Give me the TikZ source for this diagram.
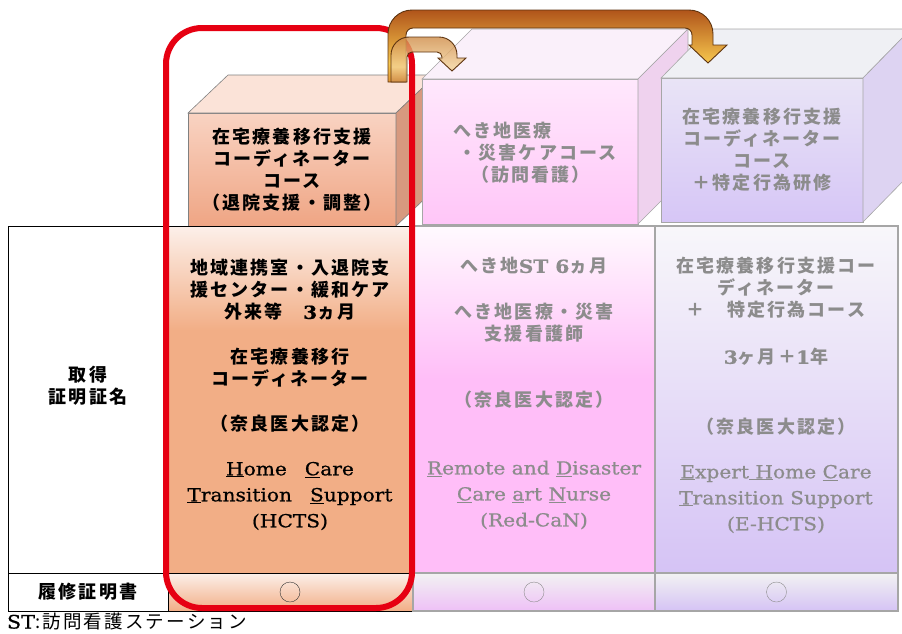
\documentclass[tikz,border=0pt]{standalone}
\usepackage{fontspec}
\setmainfont{Noto Sans CJK JP}[LetterSpace=12]
\newfontfamily\en{DejaVu Serif}[FakeStretch=1.12, FakeBold=0.8]
\usetikzlibrary{positioning,calc}

\definecolor{orfront}{HTML}{EFA584}
\definecolor{orfronttop}{HTML}{F9D3C2}
\definecolor{orside}{HTML}{D7997F}
\definecolor{ortop}{HTML}{FBE3D8}
\definecolor{orcell}{HTML}{F2AE86}
\definecolor{orcelltop}{HTML}{FCF0EA}
\definecolor{pkfront}{HTML}{FFC6F8}
\definecolor{pkfronttop}{HTML}{FFE8FC}
\definecolor{pkside}{HTML}{EFD2EE}
\definecolor{pktop}{HTML}{FAF0FA}
\definecolor{pkcell}{HTML}{FFBEF8}
\definecolor{pkcelltop}{HTML}{FFFAFE}
\definecolor{lvfront}{HTML}{D6C6F6}
\definecolor{lvfronttop}{HTML}{E9E4F6}
\definecolor{lvside}{HTML}{DDD3F2}
\definecolor{lvtop}{HTML}{EFF0F4}
\definecolor{lvcell}{HTML}{D5C3F5}
\definecolor{lvcelltop}{HTML}{F8F7FA}
\definecolor{rowtop}{HTML}{F2F2F2}
\definecolor{fadeline}{HTML}{A6A6A6}
\definecolor{fadetext}{HTML}{8C8C8C}
\definecolor{arredge}{HTML}{5E3410}
\definecolor{arrdark}{HTML}{B0541A}
\definecolor{arrhi}{HTML}{F7C84E}
\definecolor{arrlow}{HTML}{E09535}
\definecolor{smalldark}{HTML}{CF8C48}
\definecolor{smallhi}{HTML}{F3D296}
\definecolor{framered}{HTML}{E60012}

\pgfdeclareverticalshading{orcellshade}{100bp}{color(0bp)=(orcell); color(25bp)=(orcell); color(60bp)=(orcell); color(75bp)=(orcelltop); color(100bp)=(orcelltop)}
\pgfdeclareverticalshading{pkcellshade}{100bp}{color(0bp)=(pkcell); color(25bp)=(pkcell); color(53bp)=(pkcell); color(75bp)=(pkcelltop); color(100bp)=(pkcelltop)}
\pgfdeclareverticalshading{bigarrowshade}{100bp}{color(0bp)=(arrlow); color(25bp)=(arrlow); color(38bp)=(arrhi); color(75bp)=(arrdark); color(100bp)=(arrdark)}
\pgfdeclareverticalshading{smallarrowshade}{100bp}{color(0bp)=(smalldark); color(25bp)=(smalldark); color(42bp)=(smallhi); color(75bp)=(smalldark); color(100bp)=(smalldark)}

\begin{document}
\begin{tikzpicture}[x = 1pt, y = -1pt, semithick,
                    every node/.style = {inner sep = 0pt, outer sep = 0pt},
                    jp/.style    = {font = \bfseries\fontsize{18}{22}\selectfont,
                                    align = center},
                    en/.style    = {font = \en\fontsize{18}{26}\selectfont,
                                    align = center},
                    faded/.style = {text = fadetext},
                    face/.style  = {draw = #1, line width = 0.8pt},
                    cell/.style  = {draw = #1, line width = 0.8pt},
                    ring/.style  = {circle, draw = #1, thin,
                                    minimum size = 20pt},
                    hcts/.style  = {draw = framered, line width = 6pt,
                                    rounded corners = 36pt},
                    bigarrow/.style   = {draw = arredge, line width = 0.9pt,
                                         shading = bigarrowshade},
                    smallarrow/.style = {draw = arredge, line width = 0.9pt,
                                         shading = smallarrowshade,
                                         fill opacity = 0.8}]

\useasboundingbox (0,0) rectangle (902,633);

% course boxes
\node[face = gray, top color = orfronttop, bottom color = orfront,
      minimum width = 208pt, minimum height = 113pt, jp] (f1) at (292,169.5)
      {在宅療養移行支援\\コーディネーター\\コース\\（退院支援・調整）};
\filldraw[draw = gray, fill = ortop] (f1.north west) -- ++(40,-38) -- ++(208,0) -- (f1.north east) -- cycle;
\filldraw[draw = gray, fill = orside] (f1.north east) -- ++(40,-38) -- ++(0,113) -- (f1.south east) -- cycle;

\node[face = fadeline, top color = pkfronttop, bottom color = pkfront,
      minimum width = 216pt, minimum height = 145pt] (f2) at (530,151.5) {};
\filldraw[draw = fadeline, fill = pktop] (f2.north west) -- ++(50,-50) -- ++(216,0) -- (f2.north east) -- cycle;
\filldraw[draw = fadeline, fill = pkside] (f2.north east) -- ++(50,-50) -- ++(0,145) -- (f2.south east) -- cycle;
\node[jp, faded, align = left, anchor = west] (b2) at (453,153)
      {へき地医療\\\hspace{0.3em}・災害ケアコース\\\hspace{1em}（訪問看護）};

\node[face = fadeline, top color = lvfronttop, bottom color = lvfront,
      minimum width = 202pt, minimum height = 144pt, jp, faded] (f3) at (762,150)
      {在宅療養移行支援\\コーディネーター\\コース\\＋特定行為研修};
\filldraw[draw = fadeline, fill = lvtop] (f3.north west) -- ++(48,-49) -- ++(202,0) -- (f3.north east) -- cycle;
\filldraw[draw = fadeline, fill = lvside] (f3.north east) -- ++(48,-49) -- ++(0,144) -- (f3.south east) -- cycle;

% table
\node[cell = black, fill = white, minimum width = 160pt, minimum height = 347pt] (lab) at (88,399.5) {};
\node[cell = black, fill = white, minimum width = 160pt, minimum height = 38pt, jp] (labr) at (88,592) {履修証明書};
\node[jp] (labt) at (88,386) {取得\\証明証名};

\node[cell = black, shading = orcellshade, minimum width = 244pt, minimum height = 347pt] (c1) at (290,399.5) {};
\node[cell = black, top color = orcelltop, bottom color = orcell, minimum width = 244pt, minimum height = 38pt] (r1) at (290,592) {};
\node[cell = fadeline, line width = 1.5pt, shading = pkcellshade, minimum width = 242pt, minimum height = 347pt] (c2) at (534,399.5) {};
\node[cell = fadeline, line width = 1.5pt, top color = rowtop, bottom color = pkcell!60!lvcell, minimum width = 242pt, minimum height = 38pt] (r2) at (534,592) {};
\node[cell = fadeline, line width = 1.5pt, top color = lvcelltop, bottom color = lvcell, minimum width = 243pt, minimum height = 347pt] (c3) at (776.5,399.5) {};
\node[cell = fadeline, line width = 1.5pt, top color = rowtop, bottom color = lvcell, minimum width = 243pt, minimum height = 38pt] (r3) at (776.5,592) {};

\node[ring = black!80] (o1) at (r1) {};
\node[ring = fadetext] (o2) at (r2) {};
\node[ring = fadetext] (o3) at (r3) {};

% HCTS column
\node[jp] (h1) at (290,290) {地域連携室・入退院支\\援センター・緩和ケア\\外来等　{\en 3}ヵ月};
\node[jp] (h2) at (290,368) {在宅療養移行\\コーディネーター};
\node[jp] (h3) at (290,424) {（奈良医大認定）};
\node[en] (h4) at (290,496) {\underline{H}ome\hspace{1em}\underline{C}are\\
      \underline{T}ransition\hspace{1em}\underline{S}upport\\(HCTS)};

% Red-CaN column
\node[jp, faded] (r2a) at (534,266) {へき地{\en ST 6}ヵ月};
\node[jp, faded] (r2b) at (534,322.5) {へき地医療・災害\\支援看護師};
\node[jp, faded] (r2c) at (534,400) {（奈良医大認定）};
\node[en, faded] (r2d) at (534,495) {\underline{R}emote and \underline{D}isaster\\
      \underline{C}are \underline{a}rt \underline{N}urse\\(Red-CaN)};

% E-HCTS column
\node[jp, faded] (e1) at (776,288) {在宅療養移行支援コー\\ディネーター\\＋　特定行為コース};
\node[jp, faded] (e2) at (776,357) {{\en 3}ヶ月＋{\en 1}年};
\node[jp, faded] (e3) at (776,427) {（奈良医大認定）};
\node[en, faded] (e4) at (776,499) {\underline{E}xpert\underline{ H}ome \underline{C}are\\
      \underline{T}ransition Support\\(E-HCTS)};

\node[anchor = west, font = \fontsize{18.5}{20}\selectfont] (note) at (7,621.5) {{\en ST}:訪問看護ステーション};

% frame
\draw[hcts] (166,28) rectangle (412,608);

% arrows
\coordinate (bigfrom) at (406,82);
\coordinate (bigto) at (708,63);
\coordinate (smallfrom) at (407,82);
\coordinate (smallto) at (452,71);

\path[bigarrow] (bigfrom) -- (388,82) -- (388,34) .. controls (388,20.7) and (398.7,10) .. (412,10)
      -- (689,10) .. controls (702.3,10) and (713,20.7) .. (713,34) -- (713,45) -- (727,45)
      -- (bigto) -- (689,45) -- (692,45) -- (692,35) .. controls (692,31.1) and (688.9,28) .. (685,28)
      -- (413,28) .. controls (409.1,28) and (406,31.1) .. (406,35) -- cycle;

\path[smallarrow] (smallfrom) -- (391,82) -- (391,55) .. controls (391,45.1) and (399.1,37) .. (409,37)
      -- (439,37) .. controls (448.9,37) and (457,45.1) .. (457,55) -- (457,58) -- (466,58)
      -- (smallto) -- (438,58) -- (442,58) -- (442,57) .. controls (442,54.2) and (439.8,52) .. (437,52)
      -- (412,52) .. controls (409.2,52) and (407,54.2) .. (407,57) -- cycle;

\end{tikzpicture}
\end{document}
